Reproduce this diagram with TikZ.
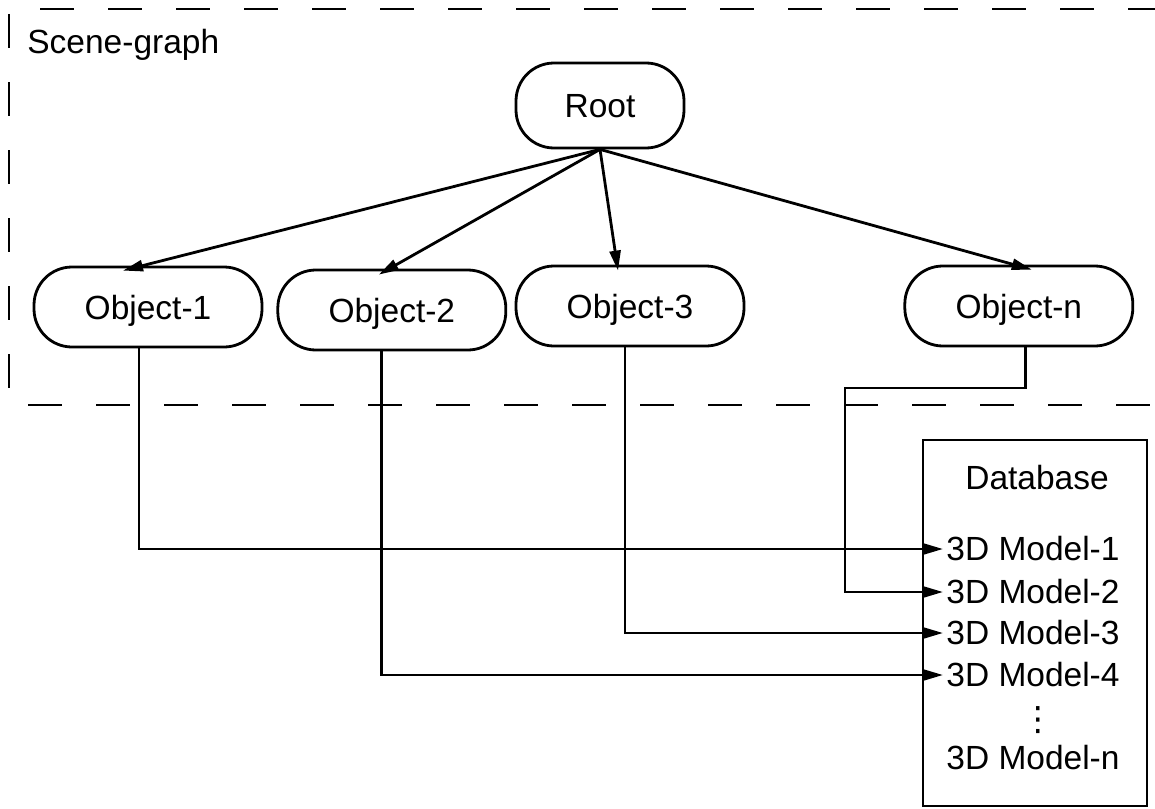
\documentclass[tikz,border=0pt]{standalone}
\usepackage{fontspec}
\setmainfont{Liberation Sans}
\newfontfamily\dejavu{DejaVu Sans}
\usepackage{tikz}
\usetikzlibrary{arrows.meta,positioning}

\begin{document}
\begin{tikzpicture}[x=1pt,y=-1pt,-,>={Triangle[length=20pt,width=11pt]},line width=2.8pt,
                    node distance=13pt,
                    every node/.style={font=\fontsize{33.5}{40}\selectfont},
                    obj/.style={draw,rounded corners=38pt,minimum width=228pt,minimum height=80pt,
                                inner sep=0pt,text depth=0pt},
                    model/.style={anchor=west,inner sep=2pt}]
  \useasboundingbox (0,0) rectangle (1155,808);

  % scene-graph frame
  \draw[dash pattern=on 34pt off 34pt] (9,14) -- (9,405);
  \draw[dash pattern=on 34pt off 34pt] (40,9) -- (1155,9);
  \draw[dash pattern=on 34pt off 34pt] (28,405) -- (1155,405);
  \node[anchor=base west,inner sep=0pt] (SG) at (26,53) {Scene-graph};

  \node[obj,minimum width=168pt,minimum height=85pt] (R) at (600,105.5) {Root};
  \node[obj]         (O1) at (148,307)              {Object-1};
  \node[obj]         (O2) [right=of O1,yshift=-3pt] {Object-2};
  \node[obj]         (O3) at (630,306)              {Object-3};
  \node[obj]         (On) [right=158pt of O3]       {Object-n};

  % database
  \node[draw,minimum width=224pt,minimum height=366pt,inner sep=0pt] (DB) at (1035,623) {};
  \node              (DBt) at (1037,478) {Database};
  \node[model]       (M1) at (943,549) {3D Model-1};
  \node[model]       (M2) at (943,592) {3D Model-2};
  \node[model]       (M3) at (943,633) {3D Model-3};
  \node[model]       (M4) at (943,675) {3D Model-4};
  \node[inner sep=0pt] (Md) at (1038,720) {\dejavu ⋮};
  \node[model]       (Mn) at (943,758) {3D Model-n};

  \path[->] (R.south) edge ([xshift=-25pt,yshift=-5pt]O1.north)
                      edge ([xshift=-13pt,yshift=-6pt]O2.north)
                      edge ([xshift=-12pt,yshift=-6pt]O3.north)
                      edge ([xshift=13pt,yshift=-5pt]On.north);

  \coordinate (J) at (845,388);
  \draw[->] ([xshift=-9pt]O1.south) |- (M1.west);
  \draw[->] ([xshift=-10.5pt]O2.south) |- (M4.west);
  \draw[->] ([xshift=-5pt]O3.south) |- (M3.west);
  \draw[->] ([xshift=6.5pt]On.south) |- (J) |- (M2.west);

\end{tikzpicture}
\end{document}
